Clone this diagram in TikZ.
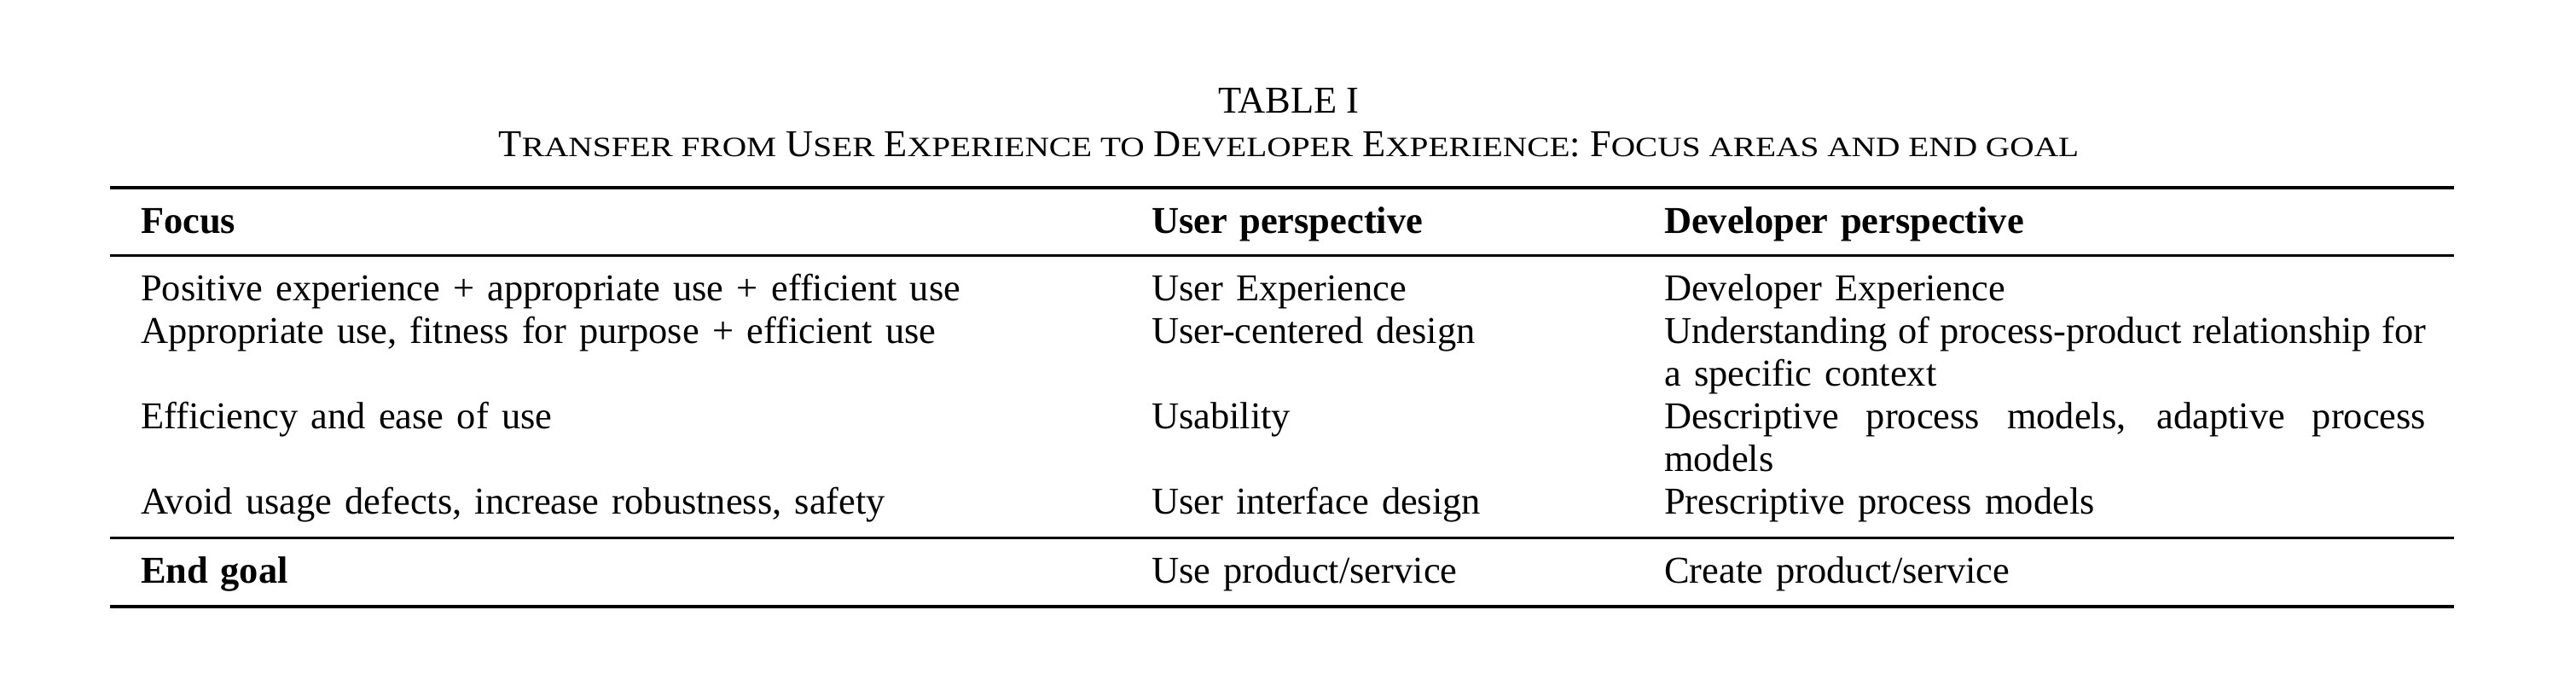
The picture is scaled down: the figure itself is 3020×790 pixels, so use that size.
\documentclass[tikz,border=0pt]{standalone}
\usepackage{fontspec}
\setmainfont{Liberation Serif}
\newfontfamily\scfont[FakeStretch=1.2]{Liberation Serif}
\newcommand\capsm[1]{{\scfont\fontsize{5.9pt}{7pt}\selectfont #1}}
\newcommand\cellfont{\fontsize{8pt}{9pt}\selectfont\spaceskip=2.75pt plus 1pt minus 0.6pt\relax}
\newcommand\headfont{\fontsize{8pt}{9pt}\selectfont\bfseries\spaceskip=2.6pt plus 1pt minus 0.6pt\relax}
\begin{document}
\begin{tikzpicture}[x=0.18pt,y=-0.18pt,
  cell/.style={anchor=base west,inner sep=0pt,font=\cellfont},
  head/.style={anchor=base west,inner sep=0pt,font=\headfont},
  captext/.style={anchor=base,inner sep=0pt,font=\fontsize{8pt}{9pt}\selectfont},
  heavyrule/.style={line width=0.72pt},
  lightrule/.style={line width=0.5pt}]
\useasboundingbox (0,0) rectangle (3020,790);
% caption
\node[captext] (tabno) at (1511,133) {TABLE I};
\node[captext] (title) at (1511,183.3) {T\capsm{RANSFER FROM} U\capsm{SER} E\capsm{XPERIENCE TO} D\capsm{EVELOPER} E\capsm{XPERIENCE}: F\capsm{OCUS AREAS AND END GOAL}};
% rules
\coordinate (tl) at (129.3,219.7); \coordinate (tr) at (2877.3,219.7);
\coordinate (hl) at (129.3,299.5); \coordinate (hr) at (2877.3,299.5);
\coordinate (ml) at (129.3,630.7); \coordinate (mr) at (2877.3,630.7);
\coordinate (bl) at (129.3,710.7); \coordinate (br) at (2877.3,710.7);
\draw[heavyrule] (tl) -- (tr);
\draw[lightrule] (hl) -- (hr);
\draw[lightrule] (ml) -- (mr);
\draw[heavyrule] (bl) -- (br);
% header
\node[head] (h1) at (164,274) {Focus};
\node[head] (h2) at (1349,274) {User perspective};
\node[head] (h3) at (1950,274) {Developer perspective};
% rows
\node[cell] (a1) at (164,353) {Positive experience + appropriate use + efficient use};
\node[cell] (b1) at (1349,353) {User Experience};
\node[cell] (c1) at (1950,353) {Developer Experience};
\node[cell] (a2) at (164,403) {Appropriate use, fitness for purpose + efficient use};
\node[cell] (b2) at (1349,403) {User-centered design};
\node[cell] (c2) at (1950,403) {\makebox[160.74pt][s]{Understanding of process-product relationship for}};
\node[cell] (c2b) at (1950,453) {a specific context};
\node[cell] (a3) at (164,503) {Efficiency and ease of use};
\node[cell] (b3) at (1349,503) {Usability};
\node[cell] (c3) at (1950,503) {\makebox[160.74pt][s]{Descriptive process models, adaptive process}};
\node[cell] (c3b) at (1950,553) {models};
\node[cell] (a4) at (164,603) {Avoid usage defects, increase robustness, safety};
\node[cell] (b4) at (1349,603) {User interface design};
\node[cell] (c4) at (1950,603) {Prescriptive process models};
\node[head] (a5) at (164,684) {End goal};
\node[cell] (b5) at (1349,684) {Use product/service};
\node[cell] (c5) at (1950,684) {Create product/service};
\end{tikzpicture}
\end{document}
